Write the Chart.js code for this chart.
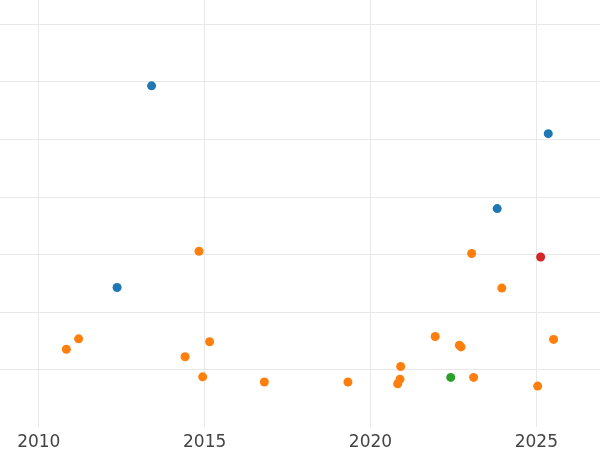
<!DOCTYPE html>
<html>
<head>
<meta charset="utf-8">
<script src="https://cdn.jsdelivr.net/npm/chart.js@4/dist/chart.umd.min.js"></script>
<style>
html,body{margin:0;padding:0;background:#fff;}
#wrap{width:600px;height:450px;}
</style>
</head>
<body>
<div id="wrap"><canvas id="c" width="600" height="450"></canvas></div>
<script>
const xTicks = [2010, 2015, 2020, 2025];
const yGrid = [0, 1, 2, 3, 4, 5, 6];

const blueX = [2013.40, 2025.36, 2023.82, 2012.36];
const blueY = [4.93, 4.10, 2.80, 1.43];

const orangeX = [2014.83, 2023.05, 2023.96, 2011.20, 2010.83, 2021.95, 2015.15, 2022.68, 2022.73, 2025.52, 2014.41, 2020.91, 2014.94, 2016.80, 2019.32, 2020.89, 2020.82, 2023.11, 2025.04];
const orangeY = [2.06, 2.02, 1.42, 0.54, 0.36, 0.58, 0.49, 0.43, 0.40, 0.53, 0.23, 0.06, -0.12, -0.21, -0.21, -0.16, -0.24, -0.13, -0.28];

const greenX = [2022.42];
const greenY = [-0.13];

const redX = [2025.13];
const redY = [1.96];

function pts(xs, ys){ return xs.map((x,i)=>({x:x, y:ys[i]})); }

const gridColor = '#e8e8e8';

new Chart(document.getElementById('c'), {
  type: 'scatter',
  data: {
    datasets: [
      {data: pts(blueX, blueY), backgroundColor:'#1f77b4', borderColor:'#1f77b4', pointRadius:4.5, borderWidth:0},
      {data: pts(orangeX, orangeY), backgroundColor:'#ff7f0e', borderColor:'#ff7f0e', pointRadius:4.5, borderWidth:0},
      {data: pts(greenX, greenY), backgroundColor:'#2ca02c', borderColor:'#2ca02c', pointRadius:4.5, borderWidth:0},
      {data: pts(redX, redY), backgroundColor:'#d62728', borderColor:'#d62728', pointRadius:4.5, borderWidth:0}
    ]
  },
  options: {
    responsive: false,
    animation: false,
    layout: {padding: 0, autoPadding: false},
    plugins: {legend:{display:false}, tooltip:{enabled:false}},
    scales: {
      x: {
        type: 'linear',
        min: 2008.83,
        max: 2026.92,
        afterBuildTicks: (s) => { s.ticks = xTicks.map(v => ({value: v})); },
        afterFit: (s) => { s.height = 23; },
        grid: {color: gridColor, lineWidth: 1, drawTicks: false},
        border: {display: false},
        ticks: {color:'#444444', padding: 5, font:{family:'DejaVu Sans', size:17}, maxRotation:0, autoSkip:false,
                callback: (v) => String(v)}
      },
      y: {
        type: 'linear',
        min: -0.99,
        max: 6.42,
        afterBuildTicks: (s) => { s.ticks = yGrid.map(v => ({value: v})); },
        afterFit: (s) => { s.width = 0; },
        grid: {color: gridColor, lineWidth: 1, drawTicks: false},
        border: {display: false},
        ticks: {display: false}
      }
    }
  }
});
</script>
</body>
</html>
